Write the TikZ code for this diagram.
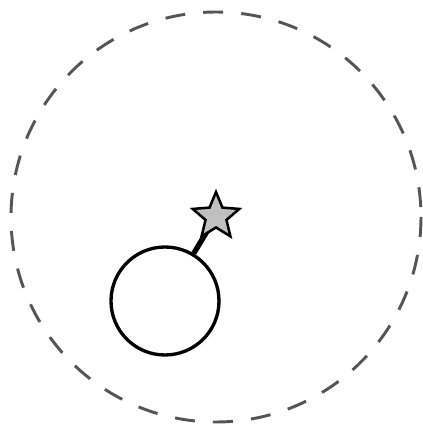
\documentclass[tikz,border=0pt]{standalone}
\definecolor{dashgray}{HTML}{555555}
\definecolor{stargray}{HTML}{C0C0C0}
\begin{document}
\begin{tikzpicture}[x=0.75pt,y=-0.75pt,
  orbit/.style={draw=dashgray,line width=2.2pt,dash pattern=on 15pt off 13.6pt},
  body/.style={circle,draw=black,line width=2.5pt,inner sep=0pt,minimum size=108*0.75pt},
  starpath/.style={draw=black,line width=1.9pt,fill=stargray,line join=miter},
  stick/.style={line width=4pt}]
\useasboundingbox (0,0) rectangle (422,425);
\fill[white] (0,0) rectangle (422,425);
\draw[orbit] (216,217) circle[radius=205];
\node[body] (c) at (165,301) {};
\coordinate (s) at (216,216.5);
\draw[stick] (c) -- (s);
\draw[starpath] ([shift={(s)}]270:24.5) -- ([shift={(s)}]306:11) -- ([shift={(s)}]342:24.5) -- ([shift={(s)}]18:11) -- ([shift={(s)}]54:24.5) -- ([shift={(s)}]90:11) -- ([shift={(s)}]126:24.5) -- ([shift={(s)}]162:11) -- ([shift={(s)}]198:24.5) -- ([shift={(s)}]234:11) -- cycle;
\end{tikzpicture}
\end{document}
